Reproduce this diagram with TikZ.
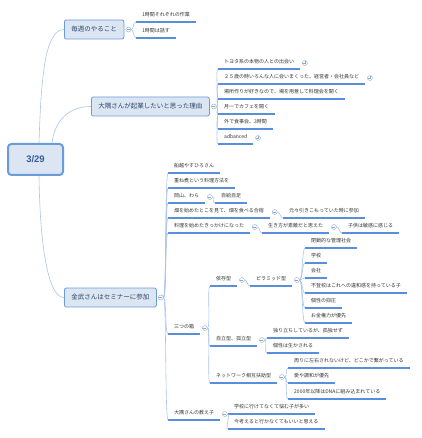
\documentclass[tikz,border=0pt]{standalone}
\usepackage{fontspec}
\setmainfont{Noto Sans CJK JP}
\newfontfamily\rootfont{Liberation Sans}
\usetikzlibrary{calc}
\definecolor{boxfill}{HTML}{DCE6F2}
\definecolor{boxline}{HTML}{6C9BD9}
\definecolor{ulcol}{HTML}{5A8EDB}
\definecolor{conncol}{HTML}{A9C5EE}
\definecolor{txt}{HTML}{333333}
\definecolor{toptxt}{HTML}{2B4468}
\definecolor{roottxt}{HTML}{3A5D96}
\definecolor{circcol}{HTML}{8EA9CF}
\newcommand\leafnode[4]{\node[leaf] (#1) at (#2,#3) {#4};\draw[ul] (#1.south west) -- (#1.south east);}
\newcommand\circnode[3]{\node[#2] (#1) at ($(#3.south east)+(4.5,-6)$) {};}
\newcommand\conn[2]{\draw[conn] (#1.east) .. controls +(3,0) and +(-3,0) .. (#2.south west);}
\begin{document}
\begin{tikzpicture}[x=1pt,y=-1pt,
  leaf/.style={anchor=south west, inner xsep=6pt, inner ysep=4pt, text height=4pt, text depth=1pt, font=\fontsize{5}{6}\selectfont, text=txt},
  ul/.style={draw=ulcol, line width=1.1pt},
  conn/.style={draw=conncol, line width=0.6pt},
  topic/.style={anchor=west, draw=boxline, fill=boxfill, line width=0.8pt, rounded corners=2pt, inner xsep=7pt, minimum height=19pt, font=\fontsize{6.5}{7}\selectfont, text=toptxt},
  rootbox/.style={draw=boxline, fill=boxfill, line width=2pt, rounded corners=3.5pt, minimum width=55pt, minimum height=31pt, font=\rootfont\bfseries\fontsize{9.5}{10}\selectfont, text=roottxt},
  minus/.style={circle, draw=circcol, fill=white, line width=0.4pt, minimum size=5pt, inner sep=0pt,
    path picture={\draw[circcol, line width=0.4pt] ([xshift=-1.5pt]path picture bounding box.center) -- ([xshift=1.5pt]path picture bounding box.center);}},
  plus/.style={minus, path picture={\draw[circcol, line width=0.4pt] ([xshift=-1.5pt]path picture bounding box.center) -- ([xshift=1.5pt]path picture bounding box.center) ([yshift=-1.5pt]path picture bounding box.center) -- ([yshift=1.5pt]path picture bounding box.center);}}
]
\useasboundingbox[fill=white] (0,0) rectangle (421,438);

% root and main topics
\node[rootbox] (root) at (35.5,159.5) {3/29};
\node[topic] (t1) at (64,29.5) {毎週のやること};
\node[topic] (t2) at (91,106.5) {大隅さんが起業したいと思った理由};
\node[topic] (t3) at (64,297.5) {金武さんはセミナーに参加};
\node[minus] (m1) at ($(t1.east)+(4,0)$) {};
\node[minus] (m2) at ($(t2.east)+(4,0)$) {};
\node[minus] (m3) at ($(t3.east)+(4,0)$) {};

\coordinate (r1) at ([xshift=3.5pt]root.north);
\coordinate (r2) at ([xshift=16.5pt]root.north);
\coordinate (r3) at ([xshift=3.5pt]root.south);
\draw[conn] (r1) .. controls +(2,-60) and +(-20,0) .. (t1.west);
\draw[conn] (r2) .. controls +(3,-25) and +(-20,0) .. (t2.west);
\draw[conn] (r3) .. controls +(1,70) and +(-16,0) .. (t3.west);

% topic 1
\leafnode{a1}{136}{22}{1時間それぞれの作業}
\leafnode{a2}{136}{38}{1時間は話す}
\conn{m1}{a1}\conn{m1}{a2}

% topic 2
\leafnode{b1}{218}{69}{トヨタ系の本物の人との出会い}
\leafnode{b2}{218}{84}{２５歳の時いろんな人に会いまくった、経営者・会社員など}
\leafnode{b3}{218}{99}{場所作りが好きなので、場を用意して料理会を開く}
\leafnode{b4}{218}{114}{月一でカフェを開く}
\leafnode{b5}{218}{129}{外で食事会、3時間}
\leafnode{b6}{218}{144}{adbanced}
\circnode{p1}{plus}{b1}
\circnode{p2}{plus}{b2}
\circnode{p6}{plus}{b6}
\conn{m2}{b1}\conn{m2}{b2}\conn{m2}{b3}\conn{m2}{b4}\conn{m2}{b5}\conn{m2}{b6}

% topic 3
\leafnode{c1}{168}{173}{船越やすひろさん}
\leafnode{c2}{168}{188}{重ね煮という料理方法を}
\leafnode{c3}{168}{203}{岡山、わら}
\leafnode{c4}{168}{218}{畑を始めたとこを見て、畑を食べる合宿}
\leafnode{c5}{168}{233}{料理を始めたきっかけになった}
\leafnode{c6}{168}{334}{三つの箱}
\leafnode{c7}{168}{420}{大隅さんの教え子}
\conn{m3}{c1}\conn{m3}{c2}\conn{m3}{c3}\conn{m3}{c4}\conn{m3}{c5}\conn{m3}{c6}\conn{m3}{c7}

\circnode{mc3}{minus}{c3}
\leafnode{c3a}{215}{203}{自給自足}
\conn{mc3}{c3a}

\circnode{mc4}{minus}{c4}
\leafnode{c4a}{283}{218}{元々引きこもっていた時に参加}
\conn{mc4}{c4a}

\circnode{mc5}{minus}{c5}
\leafnode{c5a}{262}{233}{生き方が素敵だと思えた}
\conn{mc5}{c5a}
\circnode{mc5a}{minus}{c5a}
\leafnode{c5b}{342}{233}{子供は敏感に感じる}
\conn{mc5a}{c5b}

% three boxes
\circnode{mc6}{minus}{c6}
\leafnode{d1}{210}{286}{依存型}
\leafnode{d2}{210}{346}{自立型、孤立型}
\leafnode{d3}{210}{383}{ネットワーク相互扶助型}
\conn{mc6}{d1}\conn{mc6}{d2}\conn{mc6}{d3}

\circnode{md1}{minus}{d1}
\leafnode{d1a}{250}{286}{ピラミッド型}
\conn{md1}{d1a}
\circnode{md1a}{minus}{d1a}
\leafnode{e1}{305}{248}{閉鎖的な管理社会}
\leafnode{e2}{305}{263}{学校}
\leafnode{e3}{305}{278}{会社}
\leafnode{e4}{305}{293}{不登校はこれへの違和感を持っている子}
\leafnode{e5}{305}{308}{個性の抑圧}
\leafnode{e6}{305}{323}{お金権力が優先}
\conn{md1a}{e1}\conn{md1a}{e2}\conn{md1a}{e3}\conn{md1a}{e4}\conn{md1a}{e5}\conn{md1a}{e6}

\circnode{md2}{minus}{d2}
\leafnode{f1}{267}{338}{独り立ちしているが、孤独せず}
\leafnode{f2}{267}{353}{個性は生かされる}
\conn{md2}{f1}\conn{md2}{f2}

\circnode{md3}{minus}{d3}
\leafnode{g1}{288}{368}{周りに左右されないけど、どこかで繋がっている}
\leafnode{g2}{288}{383}{愛や調和が優先}
\leafnode{g3}{288}{399}{2000年以降はDNAに組み込まれている}
\conn{md3}{g1}\conn{md3}{g2}\conn{md3}{g3}

% teacher's students
\circnode{mc7}{minus}{c7}
\leafnode{h1}{228}{414}{学校に行けてなくて悩む子が多い}
\leafnode{h2}{228}{429}{今考えると行かなくてもいいと思える}
\conn{mc7}{h1}\conn{mc7}{h2}
\end{tikzpicture}
\end{document}
